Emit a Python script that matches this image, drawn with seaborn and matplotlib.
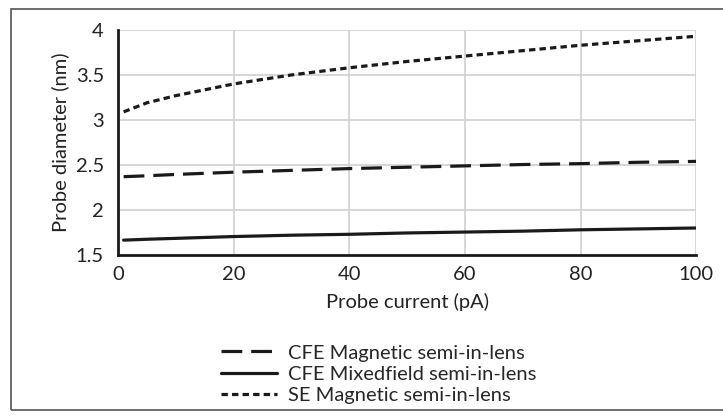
import matplotlib
matplotlib.use("Agg")
import matplotlib.pyplot as plt
import matplotlib.ticker as mticker
from matplotlib.patches import Rectangle
import seaborn as sns
import pandas as pd

current = [1, 5, 10, 20, 30, 40, 50, 60, 70, 80, 90, 100]
cfe_magnetic = [2.37, 2.38, 2.395, 2.42, 2.44, 2.46, 2.475, 2.49, 2.505, 2.515, 2.53, 2.54]
cfe_mixed = [1.665, 1.675, 1.685, 1.705, 1.72, 1.73, 1.745, 1.755, 1.765, 1.78, 1.79, 1.80]
se_magnetic = [3.09, 3.19, 3.27, 3.40, 3.50, 3.58, 3.65, 3.71, 3.77, 3.83, 3.88, 3.93]
series_names = ["CFE Magnetic semi-in-lens", "CFE Mixedfield semi-in-lens", "SE Magnetic semi-in-lens"]
x_ticks = [0, 20, 40, 60, 80, 100]
y_ticks = [1.5, 2, 2.5, 3, 3.5, 4]

rows = []
for name, vals in zip(series_names, [cfe_magnetic, cfe_mixed, se_magnetic]):
    for x, y in zip(current, vals):
        rows.append({"current": x, "diameter": y, "series": name})
df = pd.DataFrame(rows)

sns.set_theme(style="white")
plt.rcParams["font.family"] = ["Lato", "DejaVu Sans"]
FS = 14.5

fig = plt.figure(figsize=(7.23, 4.16), dpi=100)
ax = fig.add_axes([0.163, 0.387, 0.8, 0.541])

dashes = {
    series_names[0]: (6.5, 2.8),
    series_names[1]: "",
    series_names[2]: (2.0, 1.3),
}
sns.lineplot(data=df, x="current", y="diameter", hue="series", style="series",
             palette=["#1a1a1a"] * 3, dashes=dashes, linewidth=2.3, ax=ax,
             hue_order=series_names, style_order=series_names)

ax.set_xlim(0, 100)
ax.set_ylim(1.5, 4)
ax.set_xticks(x_ticks)
ax.set_yticks(y_ticks)
ax.yaxis.set_major_formatter(mticker.FuncFormatter(lambda v, p: f"{v:g}"))
ax.grid(True, color="#d0d0d0", linewidth=1.2)
ax.set_axisbelow(True)
for s in ["top", "right"]:
    ax.spines[s].set_visible(False)
for s in ["left", "bottom"]:
    ax.spines[s].set_color("#1a1a1a")
    ax.spines[s].set_linewidth(2)
ax.tick_params(axis="y", labelsize=FS, colors="#222222", length=0, pad=10)
ax.tick_params(axis="x", labelsize=FS, colors="#222222", length=0, pad=8)
ax.set_xlabel("Probe current (pA)", fontsize=FS, color="#222222", labelpad=7)
ax.set_ylabel("Probe diameter (nm)", fontsize=FS, color="#222222", labelpad=5)

handles, labels = ax.get_legend_handles_labels()
ax.legend().remove()
fig.legend(handles=handles, labels=labels, loc="upper left",
           bbox_to_anchor=(0.305, 0.172), frameon=False,
           fontsize=FS, handlelength=2.8, labelspacing=0.2, handletextpad=0.55,
           borderaxespad=0, borderpad=0)

fig.patches.append(Rectangle((11 / 723, 6 / 416), 1.0, 407 / 416 - 6 / 416 + 0.001,
                             transform=fig.transFigure, fill=False,
                             edgecolor="#555555", linewidth=1.2))

fig.savefig("out.png", dpi=100)
